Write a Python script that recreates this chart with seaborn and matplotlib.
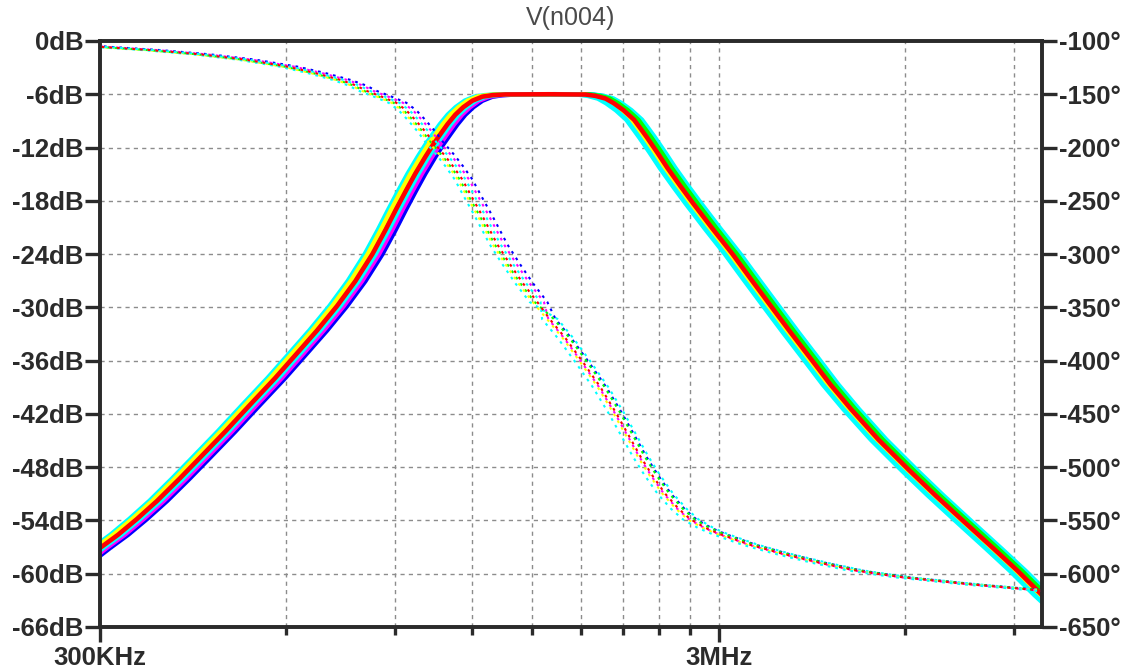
import numpy as np
import pandas as pd
import matplotlib
matplotlib.use("Agg")
import matplotlib.pyplot as plt
import seaborn as sns
from matplotlib.ticker import FixedLocator, FixedFormatter, NullFormatter

# magnitude of the nominal run (Hz, dB)
freq_mag = [285e3, 300e3, 321e3, 344e3, 371e3, 404e3, 435e3, 478e3, 524e3, 576e3,
            625e3, 673e3, 725e3, 776e3, 827e3, 868e3, 904e3, 938e3, 970e3, 1.007e6,
            1.037e6, 1.065e6, 1.093e6, 1.126e6, 1.160e6, 1.200e6, 1.245e6, 1.293e6,
            1.356e6, 1.60e6, 1.828e6, 1.897e6, 1.969e6, 2.03e6, 2.106e6, 2.19e6,
            2.243e6, 2.30e6, 2.39e6, 2.48e6, 2.60e6, 2.73e6, 2.93e6, 3.16e6, 3.39e6,
            3.64e6, 3.92e6, 4.23e6, 4.55e6, 4.91e6, 5.44e6, 6.09e6, 6.73e6, 7.47e6,
            8.36e6, 9.14e6, 10.0e6, 10.4e6]
mag_db = [-58.3, -57.1, -55.6, -53.85, -51.8, -49.25, -46.95, -44.0, -41.0, -37.95,
          -35.15, -32.6, -29.85, -27.05, -24.0, -21.3, -18.9, -16.8, -14.95, -13.05,
          -11.65, -10.5, -9.4, -8.3, -7.45, -6.72, -6.27, -6.1,
          -6.02, -6.0, -6.03, -6.18, -6.48, -7.0, -7.8, -8.87,
          -9.85, -10.9, -12.6, -14.3, -16.3, -18.3, -21.1, -24.0, -26.9,
          -29.8, -32.8, -35.8, -38.7, -41.45, -44.9, -48.3, -51.2, -54.1,
          -57.2, -59.7, -62.4, -63.5]

# phase of the nominal run (Hz, degrees)
freq_phase = [285e3, 300e3, 361e3, 435e3, 515e3, 602e3, 668e3, 734e3, 776e3, 811e3,
              858e3, 904e3, 938e3, 970e3, 1.007e6, 1.037e6, 1.081e6, 1.118e6,
              1.156e6, 1.191e6, 1.25e6, 1.317e6, 1.382e6, 1.451e6, 1.528e6, 1.60e6,
              1.697e6, 1.814e6, 1.933e6, 2.043e6, 2.146e6, 2.243e6, 2.346e6, 2.46e6,
              2.585e6, 2.703e6, 2.858e6, 3.02e6, 3.38e6, 3.82e6, 4.39e6, 5.0e6,
              5.49e6, 5.98e6, 7.67e6, 9.85e6, 10.4e6]
phase_deg = [-104.5, -105.5, -108.5, -112.5, -117.5, -124, -130, -136.5, -141.5, -147,
             -152.5, -158, -165, -174, -185, -195, -207, -218,
             -230, -244, -266, -291, -310, -328, -345, -361,
             -379, -402, -425, -448, -470, -490, -508, -525,
             -539, -549, -557, -563, -573, -581.5, -590, -597,
             -600.5, -603.5, -610, -615.5, -617]

# monte carlo runs: trace colour and how far each edge of the band moved
run_colors = ["#0000ff", "#ff00ff", "#00ffff", "#00ff00", "#ffff00", "#00ffff", "#ff0000"]
run_shift_low = [1.038, 1.025, 0.972, 0.990, 0.983, 1.012, 1.0]
run_shift_high = [1.022, 0.995, 1.030, 1.016, 0.990, 0.972, 1.0]
band_center = 1.6e6

db_ticks = list(range(-66, 1, 6))
deg_ticks = list(range(-650, -99, 50))
major_f = [300e3, 3e6]
major_labels = ["300KHz", "3MHz"]
minor_f = [600e3, 900e3, 1.2e6, 1.5e6, 1.8e6, 2.1e6, 2.4e6, 2.7e6, 6e6, 9e6]

mag_rows = []
ph_rows = []
for i in range(len(run_colors)):
    for f, v in zip(freq_mag, mag_db):
        s = run_shift_low[i] if f < band_center else run_shift_high[i]
        mag_rows.append({"run": i, "freq": f * s, "val": v})
    for f, v in zip(freq_phase, phase_deg):
        s = run_shift_low[i] if f < band_center else run_shift_high[i]
        ph_rows.append({"run": i, "freq": f * s, "val": v})
mag_df = pd.DataFrame(mag_rows)
ph_df = pd.DataFrame(ph_rows)

sns.set_theme(style="ticks")
plt.rcParams["font.family"] = ["Liberation Sans", "DejaVu Sans"]
plt.rcParams["font.weight"] = "bold"

ink = "#2b2b2b"
fig = plt.figure(figsize=(11.3, 6.7), dpi=100)
ax = fig.add_axes([100 / 1130, 1 - 627 / 670, 942 / 1130, 586 / 670])
ax2 = ax.twinx()

sns.lineplot(data=mag_df, x="freq", y="val", hue="run", palette=run_colors,
             estimator=None, errorbar=None, sort=False, lw=3.3, legend=False, ax=ax)
sns.lineplot(data=ph_df, x="freq", y="val", hue="run", palette=run_colors,
             estimator=None, errorbar=None, sort=False, lw=1.5, legend=False, ax=ax2)
for line in ax2.lines:
    line.set_linestyle((0, (1.3, 2.4)))
for line in ax.lines:
    line.set_solid_capstyle("butt")
    line.set_solid_joinstyle("round")

ax.set_xscale("log")
ax.set_xlim(300e3, 10e6)
ax.set_ylim(-66, 0)
ax2.set_ylim(-650, -100)

ax.xaxis.set_major_locator(FixedLocator(major_f))
ax.xaxis.set_major_formatter(FixedFormatter(major_labels))
ax.xaxis.set_minor_locator(FixedLocator(minor_f))
ax.xaxis.set_minor_formatter(NullFormatter())
ax.yaxis.set_major_locator(FixedLocator(db_ticks))
ax.yaxis.set_major_formatter(FixedFormatter([f"{v}dB" for v in db_ticks]))
ax2.yaxis.set_major_locator(FixedLocator(deg_ticks))
ax2.yaxis.set_major_formatter(FixedFormatter([f"{v}\u00b0" for v in deg_ticks]))

grid_kw = dict(color="#8c8c8c", lw=1.0, ls=(0, (3, 3)))
ax.grid(True, which="both", axis="x", **grid_kw)
ax.grid(True, which="major", axis="y", **grid_kw)
ax2.grid(False)

ax.tick_params(axis="y", which="major", direction="out", length=11, width=2.4,
               color=ink, labelcolor=ink, labelsize=18.5, pad=1)
ax.tick_params(axis="x", which="major", direction="out", length=11, width=2.4,
               color=ink, labelcolor=ink, labelsize=18.5, pad=3)
ax.tick_params(axis="x", which="minor", direction="out", length=6, width=2.4, color=ink)
ax2.tick_params(axis="y", which="major", direction="out", length=11, width=2.4,
                color=ink, labelcolor=ink, labelsize=18.5, pad=1)
for a in (ax, ax2):
    for sp in a.spines.values():
        sp.set_visible(True)
        sp.set_linewidth(2.6)
        sp.set_color(ink)
    a.set_xlabel("")
    a.set_ylabel("")

ax.text(0.5, 1.019, "V(n004)", transform=ax.transAxes, ha="center", va="bottom",
        fontsize=18, fontweight="normal", color="#4a4a4a")

fig.savefig("out.png", dpi=100)
